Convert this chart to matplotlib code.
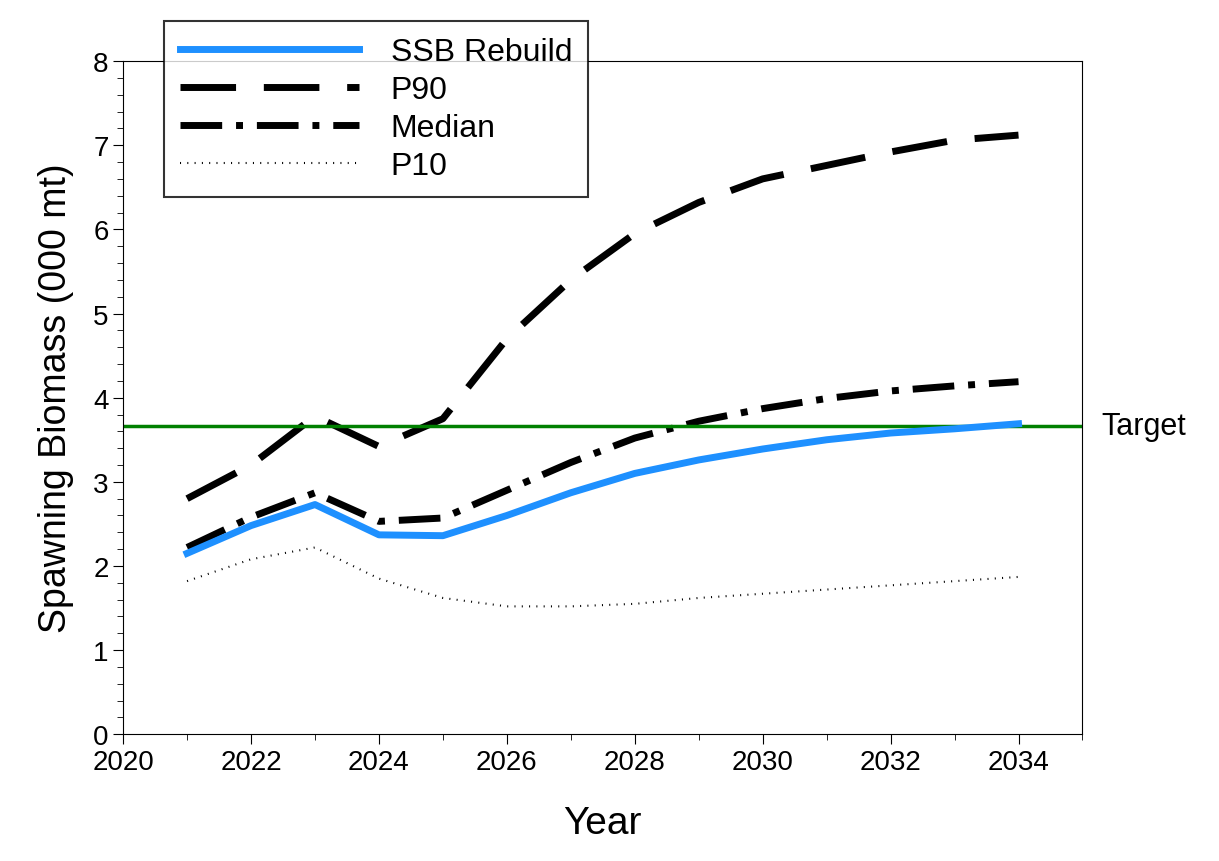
import matplotlib
matplotlib.use('Agg')
import matplotlib.pyplot as plt
from matplotlib.ticker import MultipleLocator

plt.rcParams['font.family'] = ['Liberation Sans', 'DejaVu Sans']

years = list(range(2021, 2035))
ssb = [2.15, 2.48, 2.73, 2.37, 2.36, 2.60, 2.87, 3.10, 3.26, 3.39, 3.50, 3.58, 3.63, 3.69]
p90 = [2.80, 3.20, 3.78, 3.42, 3.75, 4.70, 5.40, 5.95, 6.32, 6.60, 6.76, 6.92, 7.06, 7.12]
median = [2.22, 2.58, 2.87, 2.53, 2.57, 2.90, 3.23, 3.52, 3.72, 3.87, 3.99, 4.08, 4.14, 4.19]
p10 = [1.82, 2.08, 2.22, 1.85, 1.62, 1.52, 1.52, 1.55, 1.62, 1.67, 1.72, 1.77, 1.82, 1.87]
target = 3.66

fig = plt.figure(figsize=(12.19, 8.62), dpi=100)
ax = fig.add_axes([0.101, 0.147, 0.787, 0.781])

ax.plot(years, ssb, color='#1E90FF', lw=5, label='SSB Rebuild', zorder=5)
ax.plot(years, p90, color='black', lw=5, dashes=(8, 4), label='P90')
ax.plot(years, median, color='black', lw=5, dashes=(6, 2, 1, 2), label='Median')
ax.plot(years, p10, color='black', lw=1.5, dashes=(0.5, 3), label='P10')
ax.axhline(target, color='green', lw=2.5)
ax.text(1.02, (target - 0) / 8, 'Target', transform=ax.transAxes, fontsize=22, va='center', ha='left')

ax.set_xlim(2020, 2035)
ax.set_ylim(0, 8)
ax.set_xticks(range(2020, 2035, 2))
ax.xaxis.set_minor_locator(MultipleLocator(1))
ax.yaxis.set_minor_locator(MultipleLocator(0.2))
ax.tick_params(axis='both', which='major', direction='out', length=7, labelsize=20)
ax.tick_params(axis='both', which='minor', direction='out', length=4)
ax.tick_params(top=False, right=False)
ax.set_xlabel('Year', fontsize=28, labelpad=22)
ax.set_ylabel('Spawning Biomass (000 mt)', fontsize=27, labelpad=14)

leg = ax.legend(loc='upper left', bbox_to_anchor=(0.026, 1.083), fontsize=23, frameon=True,
                fancybox=False, edgecolor='black', handlelength=5.6, handletextpad=1.0,
                borderpad=0.5, labelspacing=0.25)
leg.get_frame().set_linewidth(1.5)
leg.set_zorder(10)

fig.savefig('out.png')
